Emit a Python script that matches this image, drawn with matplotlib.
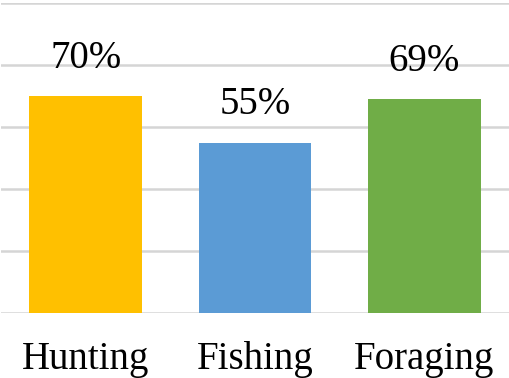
import matplotlib.pyplot as plt

categories = ['Hunting', 'Fishing', 'Foraging']
values = [70, 55, 69]
colors = ['#FFC000', '#5B9BD5', '#70AD47']

plt.rcParams['font.family'] = ['Liberation Serif', 'DejaVu Serif']

fig = plt.figure(figsize=(5.1, 3.78), dpi=100)
ax = fig.add_axes([1 / 510, 65 / 378, 508 / 510, 310 / 378])

x = range(len(categories))
bars = ax.bar(x, values, width=0.667, color=colors, zorder=2)

# value labels above the bars
for b, v in zip(bars, values):
    ax.annotate(f'{v}%', (b.get_x() + b.get_width() / 2, v),
                xytext=(0, 14), textcoords='offset points',
                ha='center', va='bottom', fontsize=28)

ax.set_xlim(-0.5, 2.5)
ax.set_ylim(0, 100)
ax.set_yticks([0, 20, 40, 60, 80, 100])
ax.yaxis.grid(True, color='#d5d5d5', linewidth=1.8, zorder=0)
ax.set_yticklabels([])
ax.tick_params(axis='y', length=0)
ax.set_xticks(list(x))
ax.set_xticklabels(categories, fontsize=28)
ax.tick_params(axis='x', length=0, pad=20)
for s in ax.spines.values():
    s.set_visible(False)

fig.savefig('out.png', dpi=100)
